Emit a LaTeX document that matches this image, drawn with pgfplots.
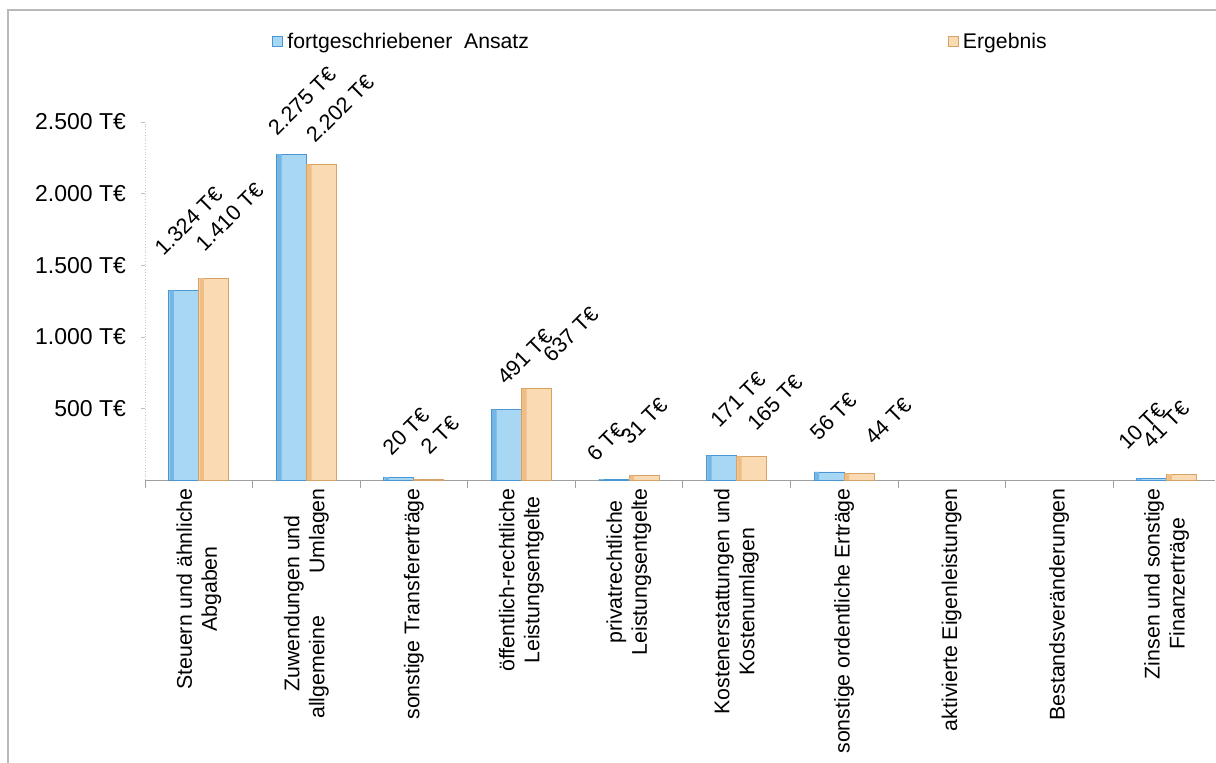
\documentclass[border=0pt]{standalone}
\usepackage{fontspec}
\setmainfont{Liberation Sans}
\usepackage{pgfplots}
\usepackage{pgfplotstable}
\pgfplotsset{compat=1.18}
\definecolor{blueL}{HTML}{A8D7F4}
\definecolor{blueS}{HTML}{74B6E6}
\definecolor{blueD}{HTML}{4A96D2}
\definecolor{orL}{HTML}{FADAB2}
\definecolor{orS}{HTML}{EEBE86}
\definecolor{orD}{HTML}{D6A266}

% value in T€, dx/dy = offset of the value label (pt)
\pgfplotstableread{
x y dx dy
1 1324 -10 16.5
2 2275 -7 8.5
3 20 -3.5 10
4 491 0 11.5
5 6 -9 8
6 171 -1 13
7 56 -5 15
10 10 -12 13.5
}\ansatz
\pgfplotstableread{
x y dx dy
1 1410 -4.5 12.5
2 2202 -3 10
3 2 0.5 11.5
4 637 8 12.5
5 31 -7 14.5
6 165 2.5 12
7 44 7.5 13.5
10 41 -15 12
}\ergebnis

\pgfplotsset{
  lbl/.style={
    visualization depends on={\thisrow{dx} \as \dx},
    visualization depends on={\thisrow{dy} \as \dy},
    nodes near coords={\pgfmathprintnumber[1000 sep={.}]{\pgfplotspointmeta} T€},
    every node near coord/.append style={xshift=\dx pt, yshift=\dy pt, rotate=45,
      anchor=south west, inner sep=0pt, font=\fontsize{10.8}{12}\selectfont}}
}

\begin{document}
\begin{tikzpicture}
% page = 1216x763 px at 0.5pt per px, axis origin at px (145,480)
\path[use as bounding box] (-72.5pt,-141.5pt) rectangle (535.5pt,240pt);
\draw[gray!55, line width=0.6pt] (-68.5pt,-141.5pt) -- (-68.5pt,235pt) -- (535.5pt,235pt);
\begin{axis}[
  scale only axis, width=535pt, height=179pt,
  ybar, bar width=15pt,
  xmin=0.5, xmax=10.45, ymin=0, ymax=2500,
  clip=false,
  axis lines=left,
  x axis line style={-, gray!75},
  y axis line style={-, gray!45, densely dotted},
  tick align=outside,
  /pgf/number format/assume math mode=true,
  xtick={1,...,10},
  major x tick style={draw=none},
  minor xtick={0.5,1.5,2.5,3.5,4.5,5.5,6.5,7.5,8.5,9.5},
  minor x tick style={gray!75},
  minor tick length=4pt,
  major tick length=2pt,
  y tick style={gray!50},
  ytick={500,1000,1500,2000,2500},
  yticklabels={500 T€,1.000 T€,1.500 T€,2.000 T€,2.500 T€},
  yticklabel style={font=\fontsize{11.5}{13}\selectfont, xshift=-4pt},
  xticklabels={
    Steuern und ähnliche\\Abgaben,
    Zuwendungen und\\allgemeine\hspace{21pt}Umlagen,
    sonstige Transfererträge,
    öffentlich-rechtliche\\Leistungsentgelte,
    privatrechtliche\\Leistungsentgelte,
    Kostenerstattungen und\\Kostenumlagen,
    sonstige ordentliche Erträge,
    aktivierte Eigenleistungen,
    Bestandsveränderungen,
    Zinsen und sonstige\\Finanzerträge},
  xticklabel style={rotate=90, anchor=east, align=center, inner sep=2pt,
    font=\fontsize{10.65}{12.5}\selectfont},
  legend columns=2,
  legend cell align=left,
  legend style={at={(0.1187,1.2235)}, anchor=west, draw=none, fill=none,
    inner sep=0pt, font=\fontsize{10.6}{12}\selectfont,
    /tikz/every even column/.append style={column sep=207.5pt}},
]
\addplot[bar shift=-7.5pt, draw=blueD, line width=0.4pt, fill=blueL, lbl,
  legend image code/.code={\draw[draw=blueD, fill=blueL, line width=0.5pt] (0pt,-2.5pt) rectangle (5pt,2.5pt);}]
  table[x=x, y=y] {\ansatz};
\addlegendentry{fortgeschriebener\ \ Ansatz}
\addplot[bar shift=7.5pt, draw=orD, line width=0.4pt, fill=orL, lbl,
  legend image code/.code={\draw[draw=orD, fill=orL, line width=0.5pt] (0pt,-2.5pt) rectangle (5pt,2.5pt);}]
  table[x=x, y=y] {\ergebnis};
\addlegendentry{Ergebnis}
% darker left edge of each bar
\addplot[forget plot, bar shift=-13.5pt, bar width=2.2pt, draw=none, fill=blueS]
  table[x=x, y=y] {\ansatz};
\addplot[forget plot, bar shift=1.5pt, bar width=2.2pt, draw=none, fill=orS]
  table[x=x, y=y] {\ergebnis};
\end{axis}
\end{tikzpicture}
\end{document}
